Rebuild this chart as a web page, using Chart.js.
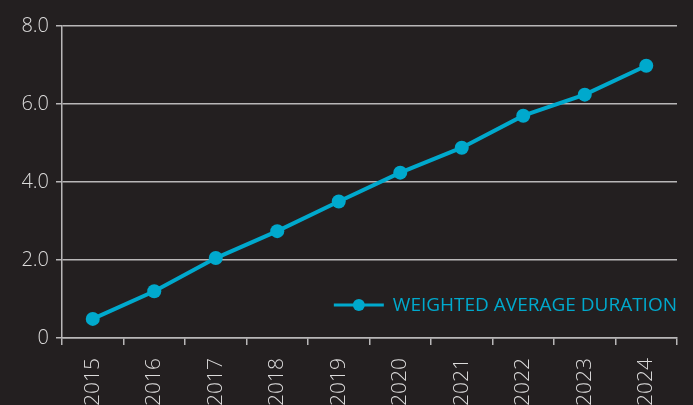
<!DOCTYPE html>
<html>
<head>
<meta charset="utf-8">
<script src="https://cdn.jsdelivr.net/npm/chart.js@4"></script>
<style>
  html, body { margin: 0; padding: 0; background: #231f20; overflow: hidden; }
  #wrap { width: 693px; height: 440px; }
</style>
</head>
<body>
<div id="wrap"><canvas id="chart" width="693" height="440"></canvas></div>
<script>
// Chart data
const years = ["2015", "2016", "2017", "2018", "2019", "2020", "2021", "2022", "2023", "2024"];
const duration = [0.49, 1.2, 2.05, 2.74, 3.5, 4.24, 4.88, 5.7, 6.24, 6.98];
const yTicks = [0, 2, 4, 6, 8];
const seriesName = "WEIGHTED AVERAGE DURATION";

const cyan = "#00a9cd";
const gridColor = "#b9b7b8";
const textColor = "#dcdbdb";

// Legend drawn inside the plot area, bottom right
const insideLegend = {
    id: "insideLegend",
    afterDraw(chart) {
        const ctx = chart.ctx;
        const area = chart.chartArea;
        const label = chart.data.datasets[0].label;
        ctx.save();
        ctx.font = "19px 'Open Sans'";
        const tw = ctx.measureText(label).width;
        const right = area.right;
        const y = area.bottom - 33;
        const textX = right - tw;
        const lineEnd = textX - 9;
        const lineStart = lineEnd - 50;
        ctx.strokeStyle = cyan;
        ctx.lineWidth = 3;
        ctx.beginPath();
        ctx.moveTo(lineStart, y);
        ctx.lineTo(lineEnd, y);
        ctx.stroke();
        ctx.fillStyle = cyan;
        ctx.beginPath();
        ctx.arc((lineStart + lineEnd) / 2, y, 6, 0, Math.PI * 2);
        ctx.fill();
        ctx.textBaseline = "middle";
        ctx.fillText(label, textX, y + 1);
        ctx.restore();
    }
};

const ctx = document.getElementById("chart").getContext("2d");
new Chart(ctx, {
    type: "line",
    data: {
        labels: years,
        datasets: [{
            label: seriesName,
            data: duration,
            borderColor: cyan,
            backgroundColor: cyan,
            borderWidth: 4,
            pointRadius: 7,
            pointHoverRadius: 7,
            pointBorderWidth: 0,
            tension: 0
        }]
    },
    options: {
        responsive: false,
        animation: false,
        layout: { padding: { top: 26, right: 16, left: 0, bottom: 0 } },
        plugins: {
            legend: { display: false },
            tooltip: { enabled: false }
        },
        scales: {
            x: {
                offset: true,
                grid: {
                    offset: true,
                    drawOnChartArea: false,
                    drawTicks: true,
                    tickLength: 7,
                    color: gridColor,
                    lineWidth: 1.5
                },
                border: { color: gridColor, width: 1.5 },
                ticks: {
                    color: textColor,
                    font: { family: "'Open Sans'", size: 21, weight: 300 },
                    maxRotation: 90,
                    minRotation: 90,
                    autoSkip: false,
                    padding: 13
                },
                afterFit(scale) { scale.height = 102; }
            },
            y: {
                min: 0,
                max: 8,
                afterBuildTicks(scale) {
                    scale.ticks = yTicks.map(v => ({ value: v }));
                },
                grid: {
                    color: gridColor,
                    lineWidth: 1.5,
                    tickLength: 6
                },
                border: { color: gridColor, width: 1.5 },
                ticks: {
                    color: textColor,
                    font: { family: "'Open Sans'", size: 20, weight: 300 },
                    padding: 7,
                    callback: v => v === 0 ? "0" : v.toFixed(1)
                },
                afterFit(scale) { scale.width = 62; }
            }
        }
    },
    plugins: [insideLegend]
});
</script>
</body>
</html>
